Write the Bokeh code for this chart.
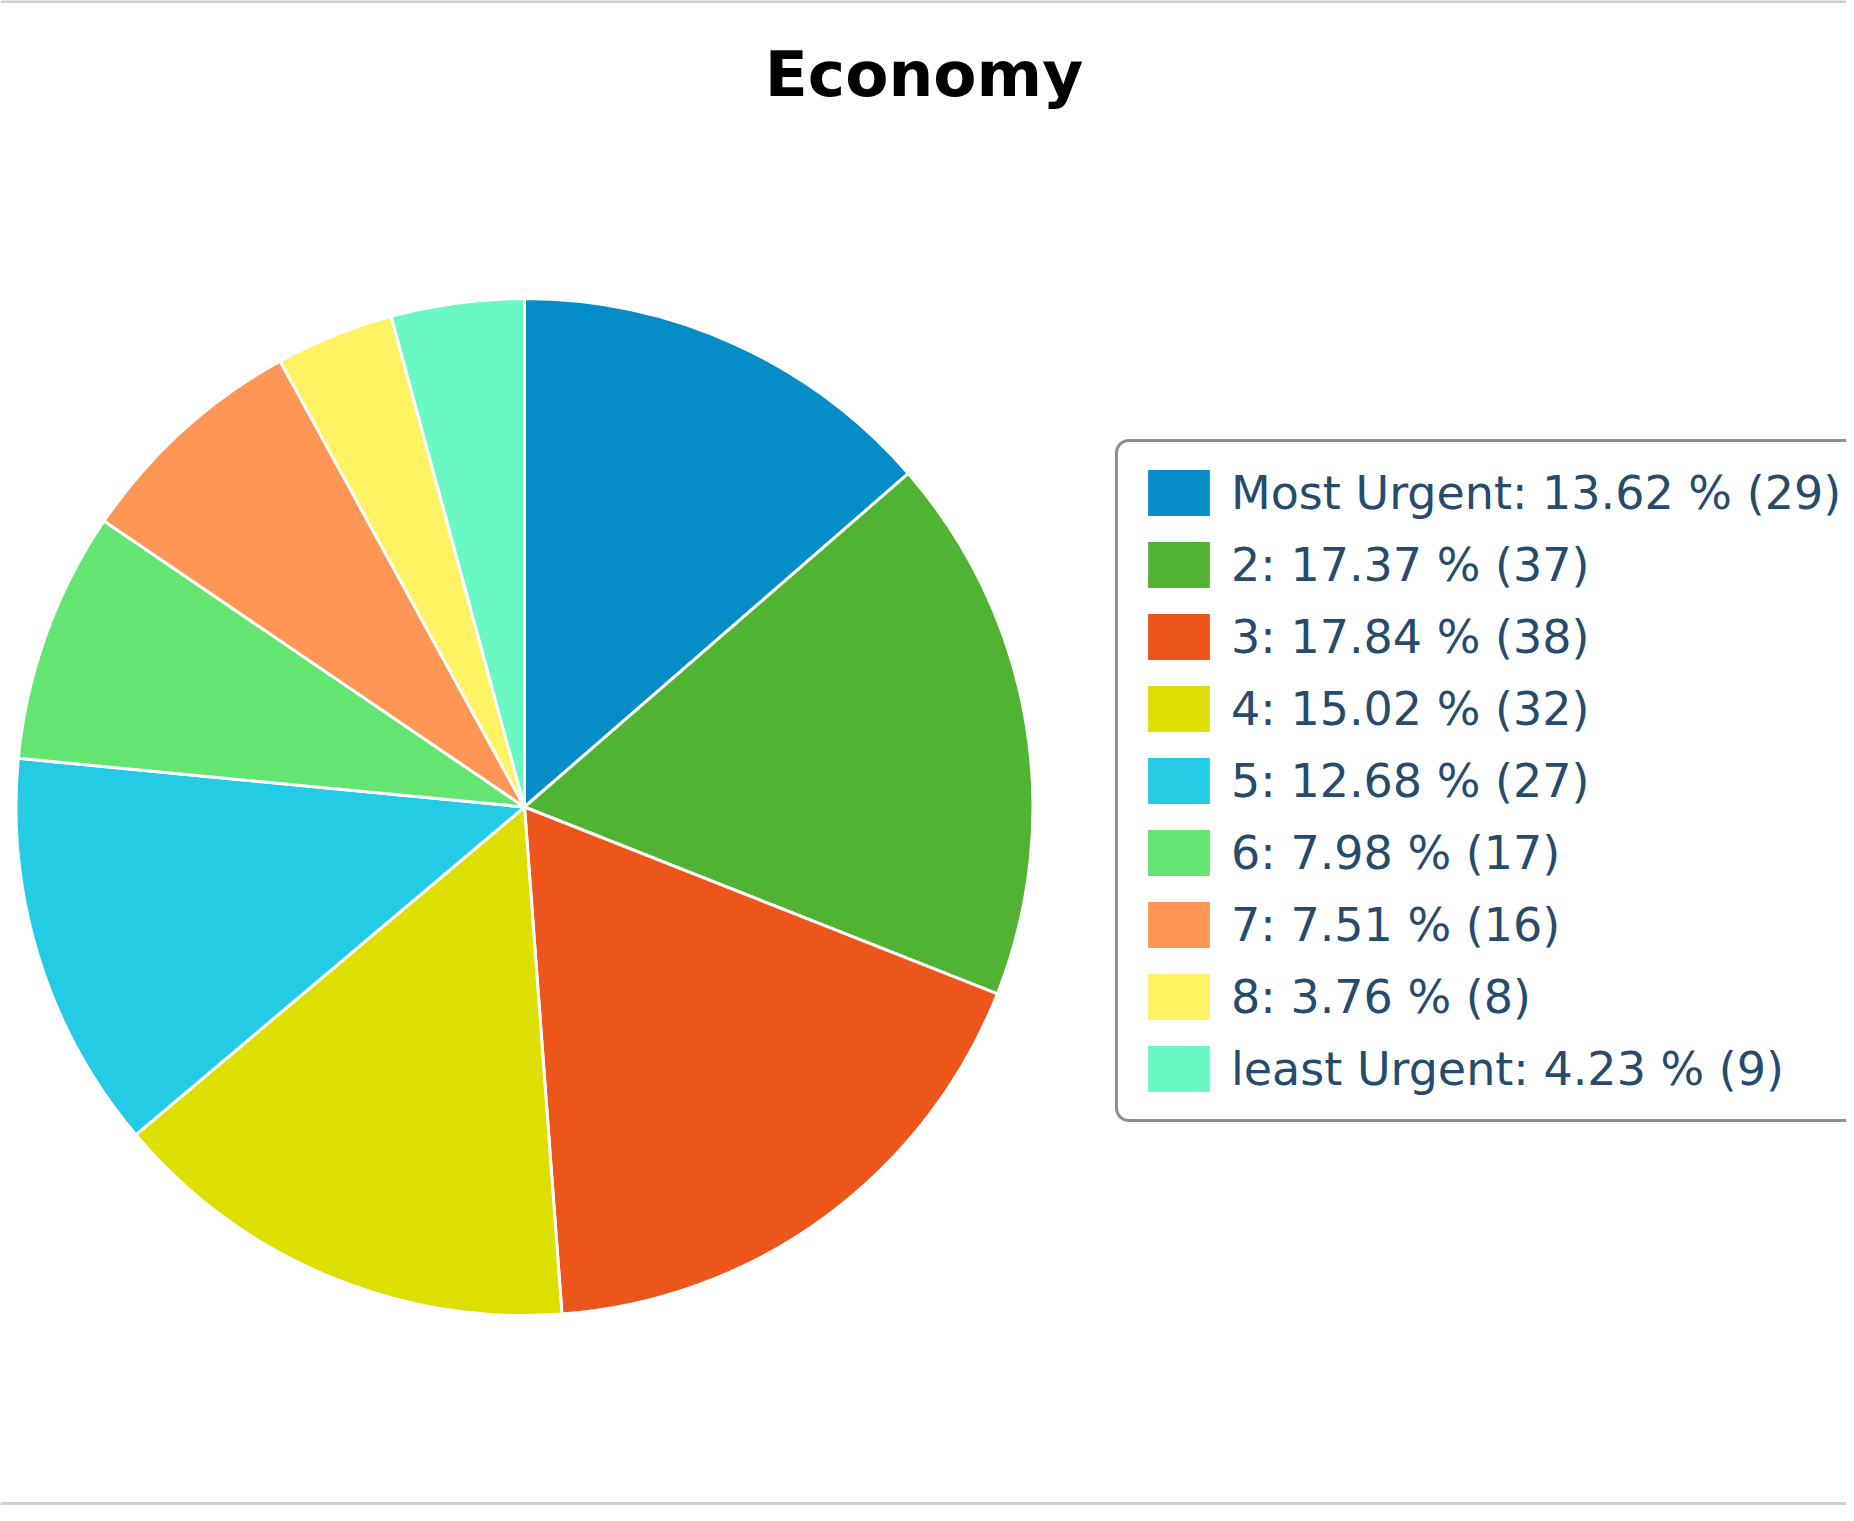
import math
from bokeh.plotting import figure
from bokeh.models import ColumnDataSource, Legend, LegendItem, Label, Range1d, Span
from bokeh.embed import file_html
from bokeh.resources import INLINE

# ---- data ----
title_text = "Economy"
categories = ["Most Urgent", "2", "3", "4", "5", "6", "7", "8", "least Urgent"]
counts = [29, 37, 38, 32, 27, 17, 16, 8, 9]
colors = ["#058DC7", "#50B432", "#ED561B", "#DDDF00", "#24CBE5",
          "#64E572", "#FF9655", "#FFF263", "#6AF9C4"]

total = sum(counts)
starts, ends, labels = [], [], []
cum = 0
for c in counts:
    starts.append(math.pi / 2 - 2 * math.pi * cum / total)
    cum += c
    ends.append(math.pi / 2 - 2 * math.pi * cum / total)
for name, c in zip(categories, counts):
    labels.append(f"{name}: {100 * c / total:.2f} % ({c})")

W, H = 1846, 1505
# data coords: x = canvas x ; y = H - canvas y
p = figure(width=W, height=H, output_backend="svg", toolbar_location=None,
           x_range=Range1d(0, W), y_range=Range1d(0, H),
           x_axis_type=None, y_axis_type=None, min_border=0,
           outline_line_color=None, background_fill_color="white",
           border_fill_color="white")
p.grid.visible = False

cx, cy_top, R = 524, 806.5, 508.5
cy = H - cy_top

src = ColumnDataSource(dict(start=starts, end=ends, color=colors, label=labels,
                            x=[cx] * len(counts), y=[cy] * len(counts)))
r = p.wedge(x="x", y="y", radius=R, start_angle="start", end_angle="end",
            direction="clock", fill_color="color", line_color="white",
            line_width=3, source=src)

items = [LegendItem(label=lab, renderers=[r], index=i) for i, lab in enumerate(labels)]
legend = Legend(items=items, location=(1115, 383), margin=0,
                padding=20, spacing=11, glyph_width=81, glyph_height=61,
                label_standoff=12, label_height=46,
                label_text_font="DejaVu Sans", label_text_font_size="46px",
                label_text_color="#274b6d", border_line_color="#8f8f8f",
                border_line_width=3, border_line_alpha=1.0,
                background_fill_color="white", background_fill_alpha=1.0)
try:
    legend.border_radius = 14
except Exception:
    pass
p.add_layout(legend, "center")

p.add_layout(Label(x=923.5, y=1431, text=title_text, text_align="center",
                   text_baseline="alphabetic", text_font="DejaVu Sans",
                   text_font_style="bold", text_font_size="63px",
                   text_color="#000000"))

p.add_layout(Span(location=H - 1, dimension="width",
                  line_color="#d0d0d0", line_width=3))
p.add_layout(Span(location=2, dimension="width",
                  line_color="#d0d0d0", line_width=3))

open("out.html", "w").write(file_html(p, INLINE))
